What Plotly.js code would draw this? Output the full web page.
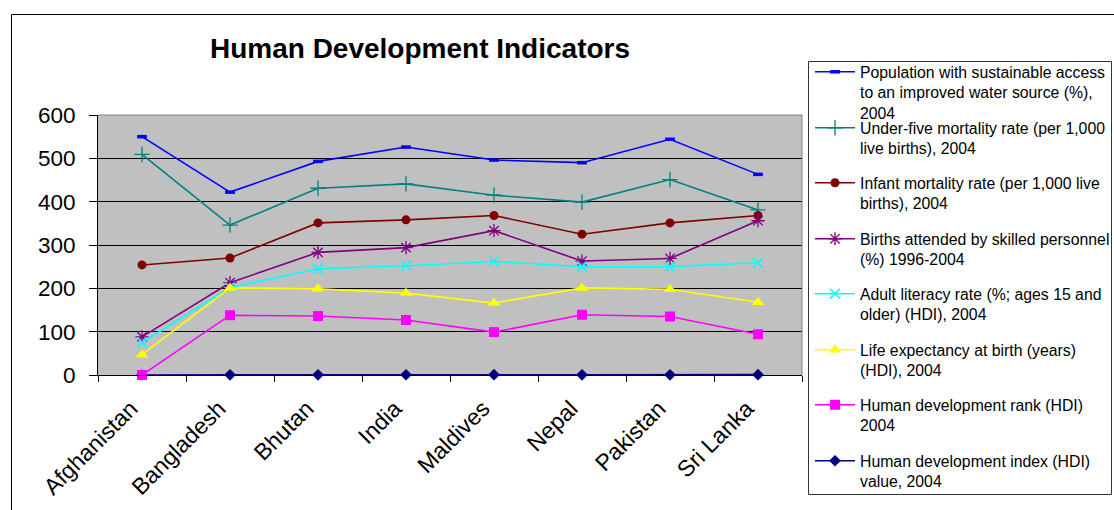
<!DOCTYPE html>
<html>
<head>
<meta charset="utf-8">
<script src="https://cdn.plot.ly/plotly-3.0.1.min.js"></script>
<style>html,body{margin:0;padding:0;background:#fff;}#chart{width:1114px;height:510px;}</style>
</head>
<body>
<div id="chart"></div>
<script>
// Categories
var countries = ["Afghanistan", "Bangladesh", "Bhutan", "India", "Maldives", "Nepal", "Pakistan", "Sri Lanka"];

// Series values as plotted (stacked line chart, cumulative positions)
var waterAccess   = [550, 422, 493, 526, 496, 490, 544, 463];
var underFive     = [509, 346, 431, 441, 415, 399, 451, 381];
var infantMort    = [254, 270, 351, 358, 368, 325, 351, 368];
var birthsSkilled = [88, 213, 283, 294, 333, 263, 269, 356];
var adultLiteracy = [75, 202, 245, 252, 262, 250, 250, 259];
var lifeExpect    = [47, 201, 199, 189, 166, 201, 198, 168];
var hdiRank       = [0, 138, 136, 127, 99, 139, 135, 94];
var hdiValue      = [0, 0.5, 0.5, 0.6, 0.7, 0.5, 0.5, 0.8];

// Legend labels
var names = [
  "Population with sustainable access<br>to an improved water source (%),<br>2004",
  "Under-five mortality rate (per 1,000<br>live births), 2004",
  "Infant mortality rate (per 1,000 live<br>births), 2004",
  "Births attended by skilled personnel<br>(%) 1996-2004",
  "Adult literacy rate (%; ages 15 and<br>older) (HDI), 2004",
  "Life expectancy at birth (years)<br>(HDI), 2004",
  "Human development rank (HDI)<br>2004",
  "Human development index (HDI)<br>value, 2004"
];

var yTicks = [0, 100, 200, 300, 400, 500, 600];

var FONT = "Liberation Sans, Arial, sans-serif";

// plot area geometry (pixels) for converting layout placement
var L = 98, R = 312, T = 115, B = 135, W = 1114, H = 510;
var pw = W - L - R, ph = H - T - B;
function px(x) { return (x - L) / pw; }
function py(y) { return (H - B - y) / ph; }

function tr(y, name, color, sym, size, lineW, legendId, openSym) {
  var m = {symbol: sym, size: size, color: color};
  if (openSym) { m.line = {color: color, width: lineW}; }
  else { m.line = {width: 0}; }
  return {
    type: "scatter", mode: "lines+markers", x: countries, y: y, name: name,
    line: {color: color, width: 1.6}, marker: m, legend: legendId,
    showlegend: true, cliponaxis: false
  };
}

var data = [
  tr(hdiValue, names[7], "#000080", "diamond", 9, 0, "legend8", false),
  tr(waterAccess, names[0], "#0000FF", "line-ew-open", 7, 3.5, "legend", true),
  tr(underFive, names[1], "#008080", "cross-thin-open", 11, 1.3, "legend2", true),
  tr(infantMort, names[2], "#800000", "circle", 9, 0, "legend3", false),
  tr(birthsSkilled, names[3], "#800080", "asterisk-open", 11, 1.3, "legend4", true),
  tr(adultLiteracy, names[4], "#00FFFF", "x-thin-open", 10, 1.6, "legend5", true),
  tr(lifeExpect, names[5], "#FFFF00", "triangle-up", 11, 0, "legend6", false),
  tr(hdiRank, names[6], "#FF00FF", "square", 10, 0, "legend7", false)
];

var legendTops = [55, 111, 166, 222, 277, 333, 388, 444];
var legendIds = ["legend", "legend2", "legend3", "legend4", "legend5", "legend6", "legend7", "legend8"];

var layout = {
  width: W, height: H,
  margin: {l: L, r: R, t: T, b: B, pad: 0, autoexpand: false},
  paper_bgcolor: "#FFFFFF",
  plot_bgcolor: "#C0C0C0",
  font: {family: FONT, color: "#000"},
  title: {
    text: "Human Development Indicators",
    font: {family: FONT, size: 28, weight: 700, color: "#000"},
    x: 420 / W, xanchor: "center", y: 1 - 48 / H, yanchor: "middle", xref: "container", yref: "container"
  },
  xaxis: {
    type: "category", showgrid: false, zeroline: false,
    showline: true, linecolor: "#000", linewidth: 1,
    ticks: "outside", tickson: "boundaries", ticklen: 6, tickcolor: "#000",
    tickangle: -45, tickfont: {family: FONT, size: 23, color: "#000"},
    ticklabelstandoff: 10, ticklabelshift: -11,
    range: [-0.5, 7.5], fixedrange: true
  },
  yaxis: {
    range: [0, 600], tickvals: yTicks, ticktext: yTicks.map(String),
    showgrid: true, gridcolor: "#000", gridwidth: 1, zeroline: false,
    showline: true, linecolor: "#000", linewidth: 1,
    ticks: "outside", ticklen: 8, tickcolor: "#000",
    ticklabelstandoff: 9,
    tickfont: {family: FONT, size: 22.5, color: "#000"}, fixedrange: true
  },
  shapes: [
    {type: "line", xref: "paper", yref: "paper", x0: 0, x1: 1, y0: 1, y1: 1, line: {color: "#808080", width: 1}},
    {type: "line", xref: "paper", yref: "paper", x0: 1, x1: 1, y0: 0, y1: 1, line: {color: "#808080", width: 1}},
    {type: "rect", xref: "paper", yref: "paper", x0: px(11.5), x1: px(1130), y0: py(530), y1: py(14.5), line: {color: "#000", width: 1}, fillcolor: "rgba(0,0,0,0)"},
    {type: "rect", xref: "paper", yref: "paper", x0: px(808.5), x1: px(1111.5), y0: py(494.5), y1: py(61.5), line: {color: "#333", width: 1}, fillcolor: "rgba(0,0,0,0)"}
  ]
};

legendIds.forEach(function (id, i) {
  layout[id] = {
    x: px(810), xanchor: "left", y: py(legendTops[i]), yanchor: "top",
    bgcolor: "rgba(0,0,0,0)", borderwidth: 0, itemwidth: 40, valign: "top",
    font: {family: FONT, size: 15.8, color: "#000"},
    itemclick: false, itemdoubleclick: false
  };
});

Plotly.newPlot("chart", data, layout, {displayModeBar: false, staticPlot: true});
</script>
</body>
</html>
